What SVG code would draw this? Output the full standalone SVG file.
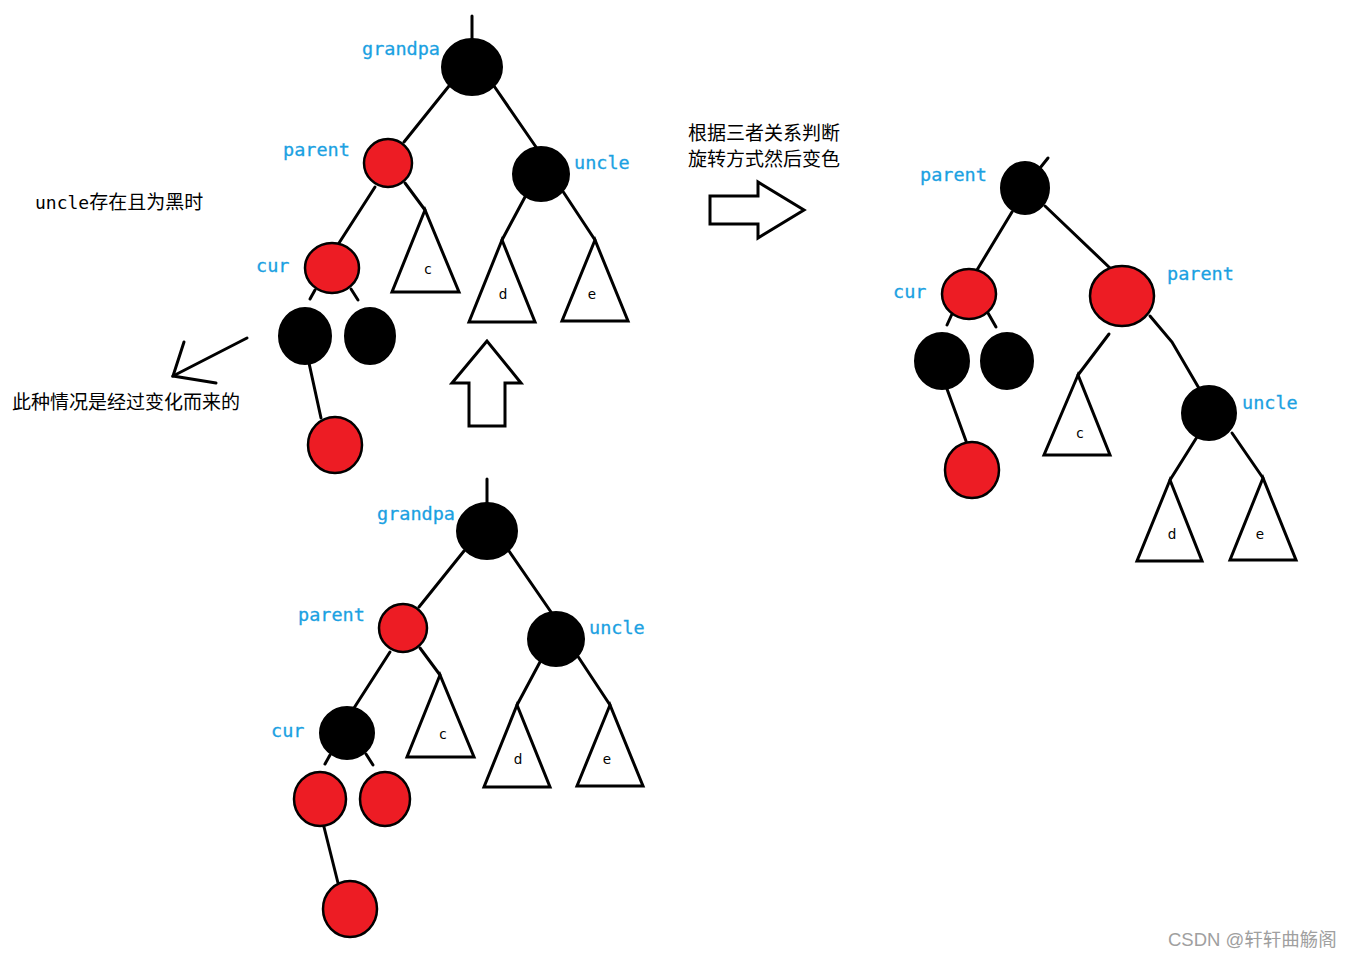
<svg xmlns="http://www.w3.org/2000/svg" width="1353" height="958" viewBox="0 0 1353 958">
<style>
.e{stroke:#000;stroke-width:3;fill:none;stroke-linecap:round}
.r{fill:#ED1C24;stroke:#000;stroke-width:2.5}
.b{fill:#000;stroke:#000;stroke-width:2}
.t{fill:#fff;stroke:#000;stroke-width:3;stroke-linejoin:miter}
.lbl{font-family:"DejaVu Sans Mono","Liberation Mono",monospace;font-size:18.5px;fill:#1BA1E2;stroke:#1BA1E2;stroke-width:0.3}
.sm{font-family:"DejaVu Sans","Liberation Sans",sans-serif;font-size:13.5px;fill:#000;text-anchor:middle}
.cn{font-family:"Noto Sans CJK SC","Liberation Sans",sans-serif;font-size:19px;fill:#000}
.mono{font-family:"DejaVu Sans Mono","Liberation Mono",monospace}
</style>
<rect width="1353" height="958" fill="#fff"/>
<g id="connectors">
  <line class="e" x1="472" y1="16" x2="472" y2="40"/>
  <line class="e" x1="449" y1="86" x2="404" y2="142"/>
  <line class="e" x1="494" y1="86" x2="536" y2="147"/>
  <line class="e" x1="375" y1="187" x2="339" y2="243"/>
  <line class="e" x1="405" y1="183" x2="425" y2="210"/>
  <line class="e" x1="525" y1="197" x2="502" y2="240"/>
  <line class="e" x1="562" y1="190" x2="595" y2="240"/>
  <line class="e" x1="315" y1="290" x2="310" y2="299"/>
  <line class="e" x1="351" y1="289" x2="358" y2="300"/>
  <line class="e" x1="309" y1="363" x2="321" y2="418"/>
  <line class="e" x1="487" y1="479" x2="487" y2="503"/>
  <line class="e" x1="464" y1="551" x2="419" y2="607"/>
  <line class="e" x1="509" y1="551" x2="551" y2="612"/>
  <line class="e" x1="390" y1="652" x2="354" y2="708"/>
  <line class="e" x1="420" y1="648" x2="440" y2="675"/>
  <line class="e" x1="540" y1="662" x2="517" y2="705"/>
  <line class="e" x1="577" y1="655" x2="610" y2="705"/>
  <line class="e" x1="330" y1="755" x2="325" y2="764"/>
  <line class="e" x1="366" y1="754" x2="373" y2="765"/>
  <line class="e" x1="324" y1="827" x2="338" y2="883"/>
  <line class="e" x1="1040" y1="168" x2="1048" y2="158"/>
  <line class="e" x1="1012" y1="212" x2="977" y2="270"/>
  <line class="e" x1="1045" y1="206" x2="1111" y2="269"/>
  <line class="e" x1="1109" y1="334" x2="1078" y2="375"/>
  <polyline class="e" points="1150,316 1172,342 1200,390"/>
  <line class="e" x1="1197" y1="437" x2="1170" y2="480"/>
  <line class="e" x1="1232" y1="433" x2="1263" y2="478"/>
  <line class="e" x1="952" y1="314" x2="947" y2="325"/>
  <line class="e" x1="988" y1="313" x2="996" y2="327"/>
  <line class="e" x1="947" y1="389" x2="966" y2="441"/>
  <line class="e" x1="247" y1="338" x2="173" y2="376"/>
  <polyline class="e" points="184,342 173,376 216,383"/>
</g>
<g id="top-tree">
  <g id="t-grandpa"><ellipse class="b" cx="472" cy="67" rx="30" ry="28"/><text class="lbl" x="362" y="55">grandpa</text></g>
  <g id="t-parent"><circle class="r" cx="388" cy="163" r="24"/><text class="lbl" x="283" y="156">parent</text></g>
  <g id="t-uncle"><ellipse class="b" cx="541" cy="174" rx="28" ry="27"/><text class="lbl" x="574" y="169">uncle</text></g>
  <g id="t-cur"><ellipse class="r" cx="332" cy="268" rx="27" ry="25"/><text class="lbl" x="256" y="272">cur</text></g>
  <g id="t-c"><polygon class="t" points="425,210 392,292 459,292"/><text class="sm" x="428" y="274">c</text></g>
  <g id="t-d"><polygon class="t" points="502,240 469,322 535,322"/><text class="sm" x="503" y="299">d</text></g>
  <g id="t-e"><polygon class="t" points="595,240 562,321 628,321"/><text class="sm" x="592" y="299">e</text></g>
  <g id="t-b1"><ellipse class="b" cx="305" cy="336" rx="26" ry="28"/></g>
  <g id="t-b2"><ellipse class="b" cx="370" cy="336" rx="25" ry="28"/></g>
  <g id="t-r1"><ellipse class="r" cx="335" cy="445" rx="27" ry="28"/></g>
</g>
<g id="bottom-tree">
  <g id="b-grandpa"><ellipse class="b" cx="487" cy="531" rx="30" ry="28"/><text class="lbl" x="377" y="520">grandpa</text></g>
  <g id="b-parent"><circle class="r" cx="403" cy="628" r="24"/><text class="lbl" x="298" y="621">parent</text></g>
  <g id="b-uncle"><ellipse class="b" cx="556" cy="639" rx="28" ry="27"/><text class="lbl" x="589" y="634">uncle</text></g>
  <g id="b-cur"><ellipse class="b" cx="347" cy="733" rx="27" ry="26"/><text class="lbl" x="271" y="737">cur</text></g>
  <g id="b-c"><polygon class="t" points="440,675 407,757 474,757"/><text class="sm" x="443" y="739">c</text></g>
  <g id="b-d"><polygon class="t" points="517,705 484,787 550,787"/><text class="sm" x="518" y="764">d</text></g>
  <g id="b-e"><polygon class="t" points="610,705 577,786 643,786"/><text class="sm" x="607" y="764">e</text></g>
  <g id="b-r1"><ellipse class="r" cx="320" cy="799" rx="26" ry="27"/></g>
  <g id="b-r2"><ellipse class="r" cx="385" cy="799" rx="25" ry="27"/></g>
  <g id="b-r3"><ellipse class="r" cx="350" cy="909" rx="27" ry="28"/></g>
</g>
<g id="right-tree">
  <g id="r-parent"><ellipse class="b" cx="1025" cy="188" rx="24" ry="26"/><text class="lbl" x="920" y="181">parent</text></g>
  <g id="r-cur"><ellipse class="r" cx="969" cy="294" rx="27" ry="25"/><text class="lbl" x="893" y="298">cur</text></g>
  <g id="r-parent2"><ellipse class="r" cx="1122" cy="296" rx="32" ry="30"/><text class="lbl" x="1167" y="280">parent</text></g>
  <g id="r-uncle"><ellipse class="b" cx="1209" cy="413" rx="27" ry="27"/><text class="lbl" x="1242" y="409">uncle</text></g>
  <g id="r-c"><polygon class="t" points="1078,375 1044,455 1110,455"/><text class="sm" x="1080" y="438">c</text></g>
  <g id="r-d"><polygon class="t" points="1170,480 1137,561 1202,561"/><text class="sm" x="1172" y="539">d</text></g>
  <g id="r-e"><polygon class="t" points="1263,478 1230,560 1296,560"/><text class="sm" x="1260" y="539">e</text></g>
  <g id="r-b1"><ellipse class="b" cx="942" cy="361" rx="27" ry="28"/></g>
  <g id="r-b2"><ellipse class="b" cx="1007" cy="361" rx="26" ry="28"/></g>
  <g id="r-r1"><ellipse class="r" cx="972" cy="470" rx="27" ry="28"/></g>
</g>
<g id="arrows">
  <polygon id="up-arrow" class="t" points="487,341 452,383 469,383 469,426 505,426 505,383 521,383"/>
  <polygon id="right-arrow" class="t" points="710,196 758,196 758,182 804,210 758,238 758,224 710,224"/>
</g>
<g id="texts">
  <text class="cn" x="35" y="209"><tspan class="mono" font-size="18">uncle</tspan>存在且为黑时</text>
  <text class="cn" x="12" y="409">此种情况是经过变化而来的</text>
  <text class="cn" x="688" y="140" font-size="18">根据三者关系判断</text>
  <text class="cn" x="688" y="166" font-size="18">旋转方式然后变色</text>
  <text x="1168" y="946" style="font-family:'Liberation Sans','Noto Sans CJK SC',sans-serif;font-size:18.5px;fill:#a0a0a0">CSDN @轩轩曲觞阁</text>
</g>
</svg>
